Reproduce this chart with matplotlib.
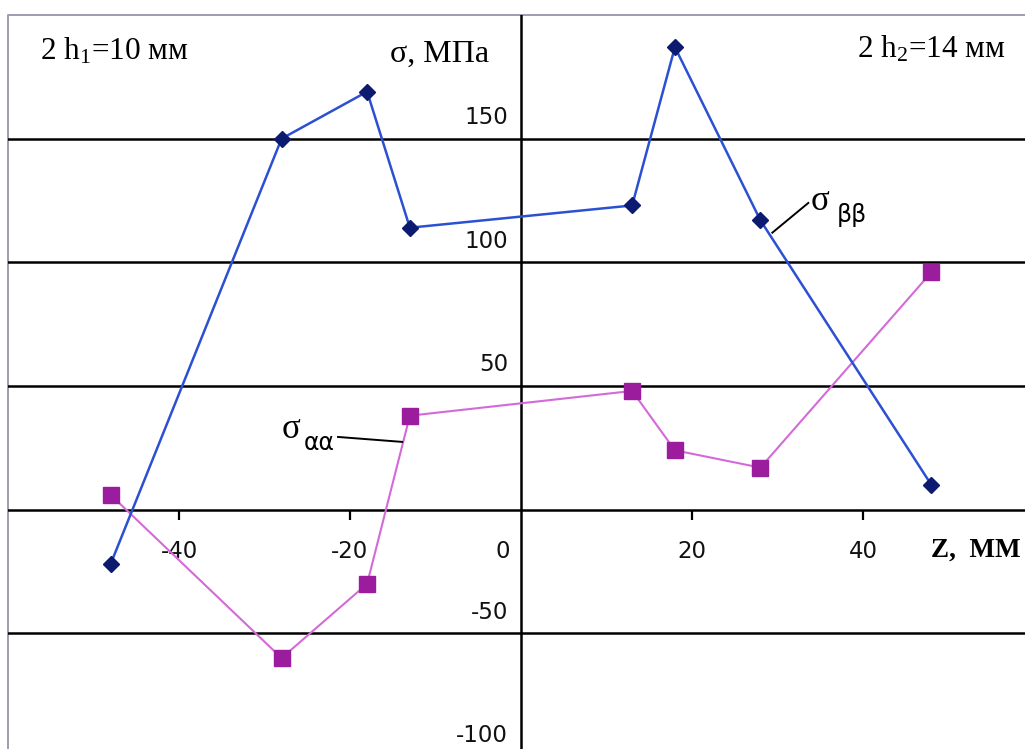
import matplotlib
matplotlib.use("Agg")
import matplotlib.pyplot as plt

plt.rcParams['mathtext.fontset'] = 'custom'
plt.rcParams['mathtext.rm'] = 'Liberation Serif'
plt.rcParams['mathtext.it'] = 'Liberation Serif'

# Coordinate along the specimen, mm
z = [-48, -28, -18, -13, 13, 18, 28, 48]
# Stresses, MPa
sigma_bb = [-22, 150, 169, 114, 123, 187, 117, 10]
sigma_aa = [6, -60, -30, 38, 48, 24, 17, 96]

y_ticks = [-100, -50, 50, 100, 150]
y_tick_labels = ["-100", "-50", "50", "100", "150"]
x_ticks = [-40, -20, 20, 40]
x_tick_labels = ["-40", "-20", "20", "40"]
grid_levels = [-50, 0, 50, 100, 150]

W, H = 1025, 749
fig = plt.figure(figsize=(W / 100, H / 100), dpi=100)
fig.patch.set_facecolor("white")


def px(x, y):
    return x / W, 1 - y / H


ax = fig.add_axes([8 / W, (H - 757) / H, (1034 - 8) / W, (757 - 15) / H])
ax.set_xlim(-60, 60)
ax.set_ylim(-100, 200)

for s in ax.spines.values():
    s.set_visible(False)
ax.set_xticks([])
ax.set_yticks([])

# outer frame (top and left edges)
ax.plot([0, 0, 1], [0, 1, 1], transform=ax.transAxes, color="#9d9db0",
        lw=1.4, clip_on=False, zorder=1)

# horizontal grid and the vertical axis
for g in grid_levels:
    ax.axhline(g, color="black", lw=1.8, zorder=2)
ax.axvline(0, color="black", lw=1.8, zorder=2)

# x tick marks hanging below the zero line
for t in x_ticks:
    ax.plot([t], [0], marker=3, markersize=7, mew=1.6,
            color="black", zorder=2)

tick_font = dict(family="DejaVu Sans", fontsize=16.5, color="#111111")
for v, lbl in zip(y_ticks, y_tick_labels):
    ax.annotate(lbl, xy=(0, v), xytext=(-13, 21), textcoords="offset pixels",
                ha="right", va="center", annotation_clip=False, **tick_font)
for v, lbl in zip(x_ticks, x_tick_labels):
    ax.annotate(lbl, xy=(v, 0), xytext=(0, -42), textcoords="offset pixels",
                ha="center", va="center", **tick_font)
ax.annotate("0", xy=(0, 0), xytext=(-11, -42), textcoords="offset pixels",
            ha="right", va="center", **tick_font)

# data series
ax.plot(z, sigma_bb, color="#2c50d2", lw=1.8, marker="D", markersize=8,
        markerfacecolor="#0c1a70", markeredgecolor="#0c1a70", zorder=4)
ax.plot(z, sigma_aa, color="#d46ad8", lw=1.5, marker="s", markersize=11,
        markerfacecolor="#9c1c9e", markeredgecolor="#9c1c9e", zorder=3)

# leader lines for the series labels
ax.plot([-21.4, -13.9], [29.4, 27.4], color="black", lw=1.4, zorder=5)
ax.plot([29.4, 33.6], [112, 124], color="black", lw=1.4, zorder=5)

serif = "Liberation Serif"
fig.text(*px(282, 430), "σ", family=serif, fontsize=25, ha="left", va="center")
fig.text(*px(304, 443), "αα", family="DejaVu Sans", fontsize=17,
         ha="left", va="center")
fig.text(*px(811, 202), "σ", family=serif, fontsize=25, ha="left", va="center")
fig.text(*px(837, 215), "ββ", family="DejaVu Sans", fontsize=17,
         ha="left", va="center")

fig.text(*px(40, 60), "2 h$_1$=10 мм", family=serif, fontsize=22.5,
         ha="left", va="baseline")
fig.text(*px(857, 58), "2 h$_2$=14 мм", family=serif, fontsize=22.5,
         ha="left", va="baseline")
fig.text(*px(390, 62), "σ, МПа", family=serif, fontsize=23,
         ha="left", va="baseline")
fig.text(*px(931, 557), "Z,  ММ", family=serif, fontsize=19.5, weight="bold",
         ha="left", va="baseline")

fig.savefig("out.png", dpi=100)
